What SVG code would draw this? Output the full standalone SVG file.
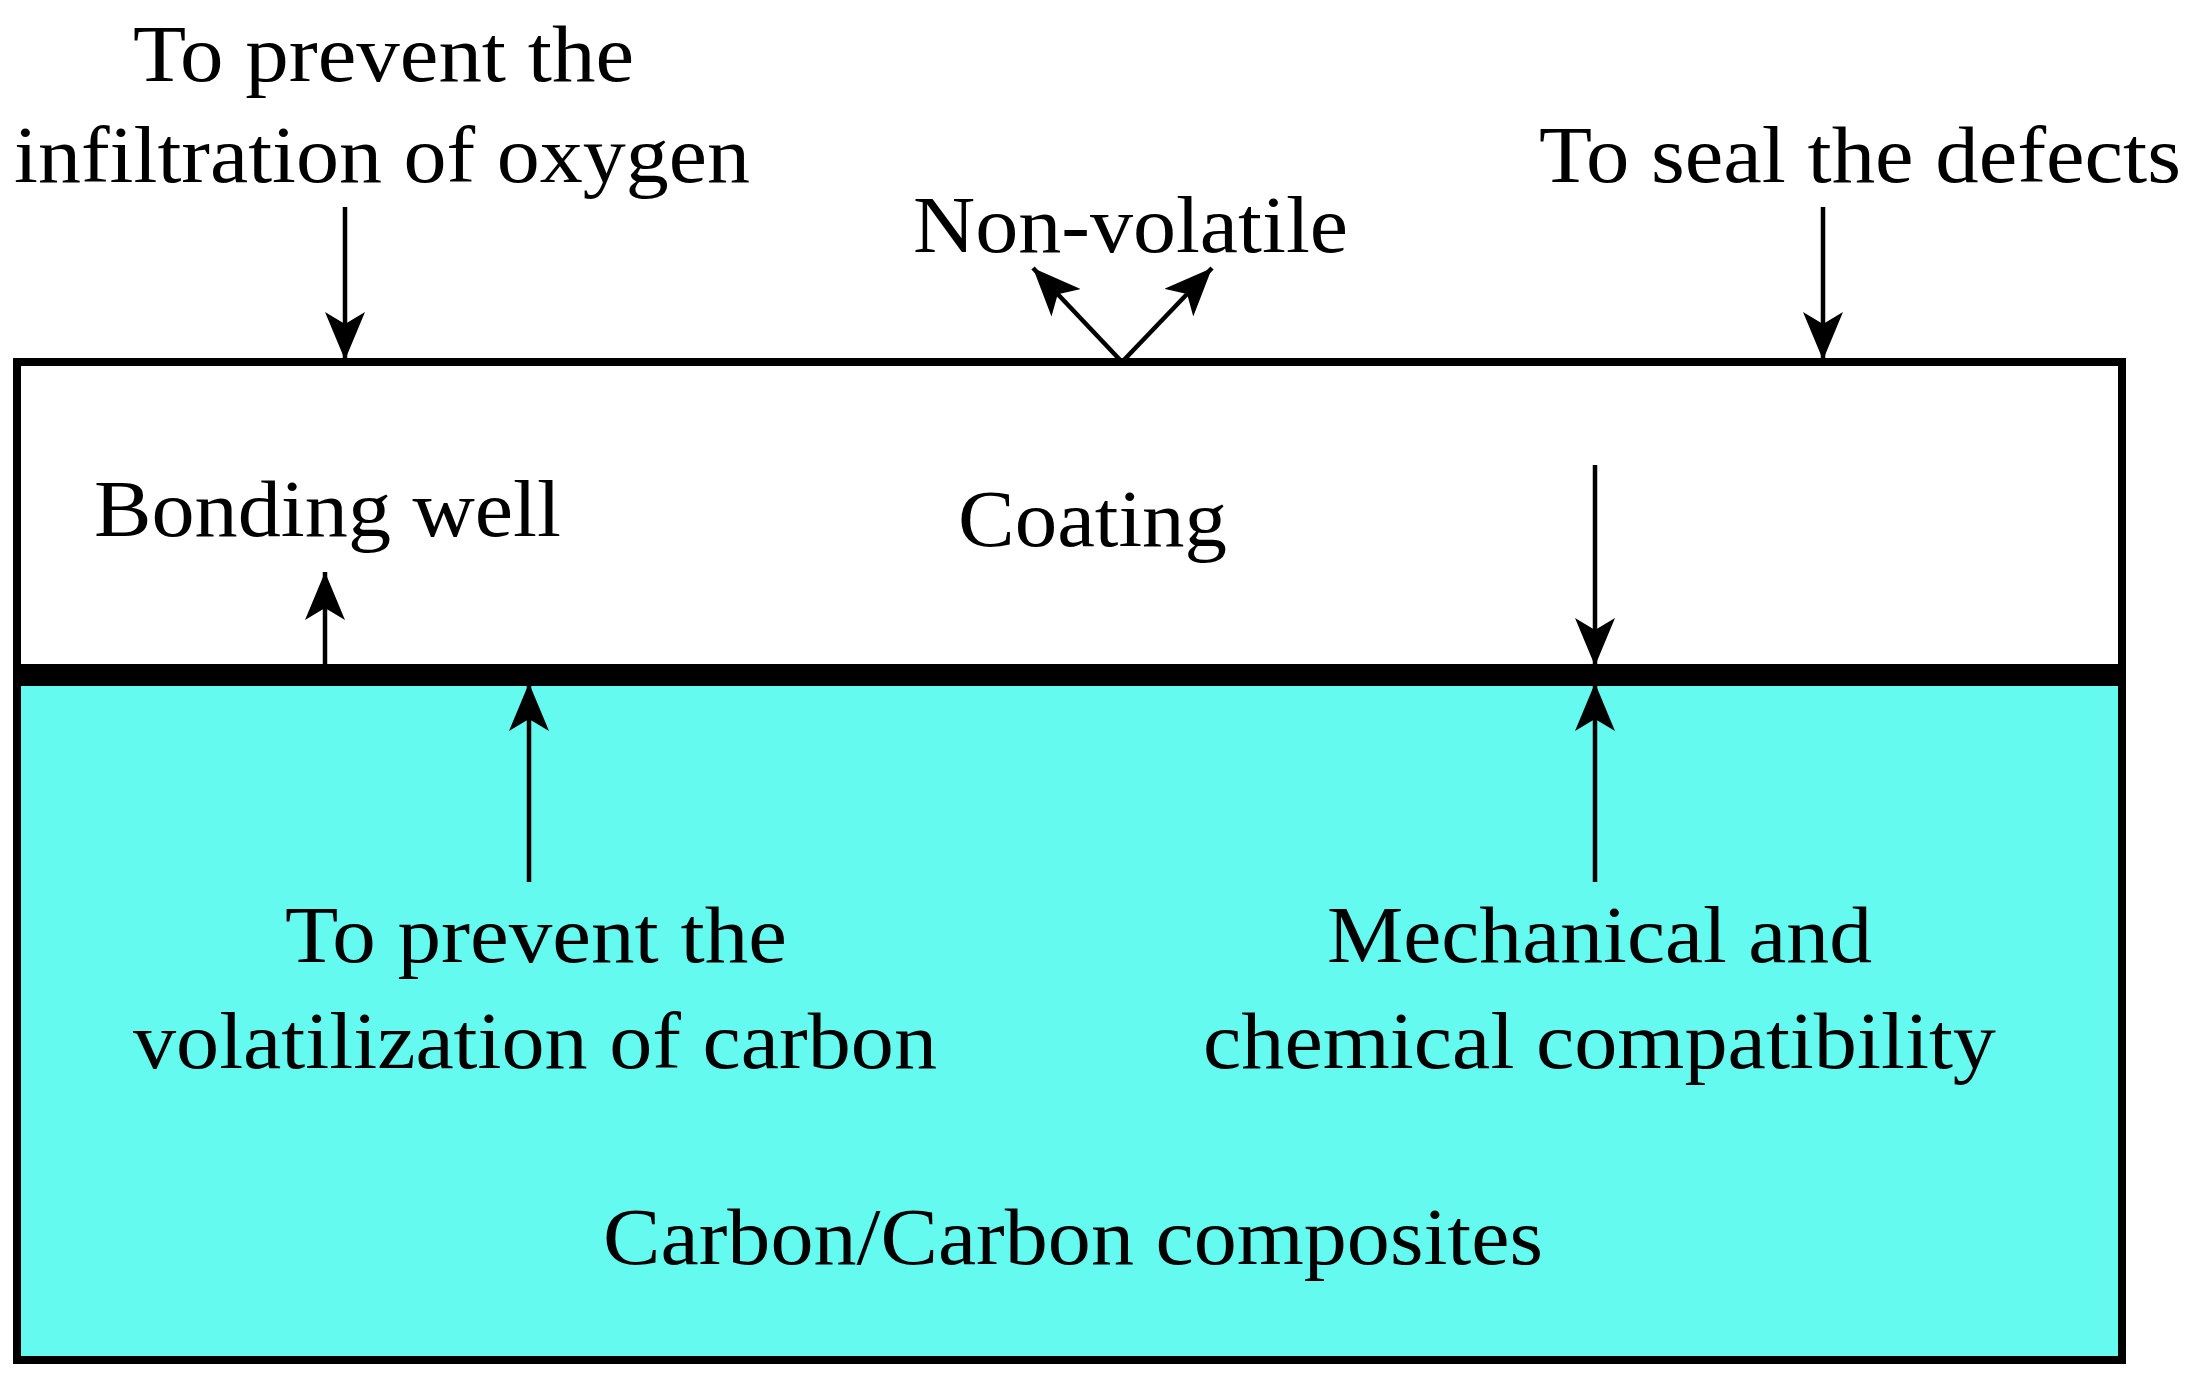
<svg xmlns="http://www.w3.org/2000/svg" width="2188" height="1375" viewBox="0 0 2188 1375">
<style>
text{font-family:"Liberation Serif","Times New Roman",serif;font-size:80px;fill:#000}
.c{stroke:#000;stroke-width:4.5;fill:none;marker-end:url(#ah)}
</style>
<defs>
<marker id="ah" markerUnits="userSpaceOnUse" markerWidth="50" markerHeight="40" refX="48" refY="20" orient="auto">
<path d="M0,0 L48,20 L0,40 L12,20 Z" fill="#000"/>
</marker>
</defs>
<rect width="2188" height="1375" fill="#fff"/>
<g id="coating">
<rect x="17" y="362" width="2105" height="313" fill="#fff" stroke="#000" stroke-width="8"/>
<text x="958" y="546" textLength="269" lengthAdjust="spacingAndGlyphs">Coating</text>
</g>
<g id="substrate">
<rect x="17" y="675" width="2105" height="685" fill="#64FAF0" stroke="#000" stroke-width="8"/>
<rect x="17" y="664" width="2105" height="22" fill="#000"/>
<text x="603" y="1264" textLength="940" lengthAdjust="spacingAndGlyphs">Carbon/Carbon composites</text>
</g>
<g id="labels">
<text x="133" y="81" textLength="501" lengthAdjust="spacingAndGlyphs">To prevent the</text>
<text x="14" y="182" textLength="736" lengthAdjust="spacingAndGlyphs">infiltration of oxygen</text>
<text x="1539" y="182" textLength="642" lengthAdjust="spacingAndGlyphs">To seal the defects</text>
<text x="913" y="252" textLength="435" lengthAdjust="spacingAndGlyphs">Non-volatile</text>
<text x="94" y="536" textLength="467" lengthAdjust="spacingAndGlyphs">Bonding well</text>
<text x="285" y="962" textLength="502" lengthAdjust="spacingAndGlyphs">To prevent the</text>
<text x="133" y="1068" textLength="804" lengthAdjust="spacingAndGlyphs">volatilization of carbon</text>
<text x="1327" y="962" textLength="545" lengthAdjust="spacingAndGlyphs">Mechanical and</text>
<text x="1203" y="1068" textLength="793" lengthAdjust="spacingAndGlyphs">chemical compatibility</text>
</g>
<g id="connectors">
<line class="c" x1="345" y1="207" x2="345" y2="360"/>
<line class="c" x1="1823" y1="207" x2="1823" y2="360"/>
<line class="c" x1="1122" y1="362" x2="1033" y2="268"/>
<line class="c" x1="1122" y1="362" x2="1212" y2="268"/>
<line class="c" x1="325" y1="664" x2="325" y2="572"/>
<line class="c" x1="529" y1="882" x2="529" y2="683"/>
<line class="c" x1="1595" y1="465" x2="1595" y2="666"/>
<line class="c" x1="1595" y1="882" x2="1595" y2="683"/>
</g>
</svg>
